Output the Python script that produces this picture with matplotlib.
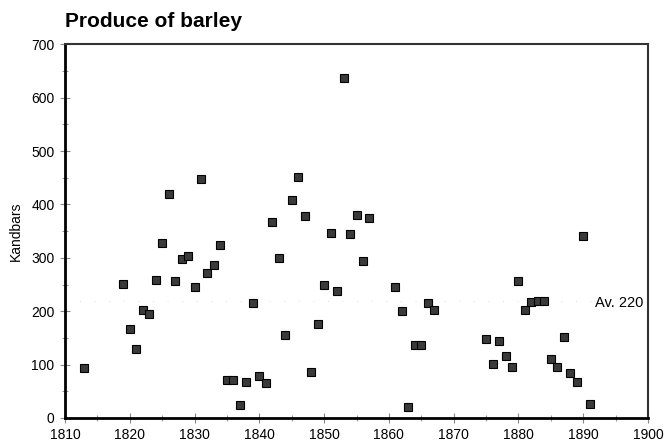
import matplotlib.pyplot as plt
from matplotlib.ticker import MultipleLocator

plt.rcParams['font.family'] = ['Liberation Sans', 'DejaVu Sans']

# barley produce by year (kandbars)
years = [1813, 1819, 1820, 1821, 1822, 1823, 1824, 1825, 1826, 1827,
         1828, 1829, 1830, 1831, 1832, 1833, 1834, 1835, 1836, 1837,
         1838, 1839, 1840, 1841, 1842, 1843, 1844, 1845, 1846, 1847,
         1848, 1849, 1850, 1851, 1852, 1853, 1854, 1855, 1856, 1857,
         1861, 1862, 1863, 1864, 1865, 1866, 1867,
         1875, 1876, 1877, 1878, 1879, 1880, 1881, 1882, 1883, 1884,
         1885, 1886, 1887, 1888, 1889, 1890, 1891]
produce = [94, 251, 167, 129, 202, 194, 259, 328, 420, 256,
           298, 303, 245, 447, 271, 287, 325, 71, 71, 25,
           67, 215, 79, 65, 368, 299, 155, 408, 452, 379,
           87, 176, 250, 347, 238, 637, 345, 381, 295, 375,
           246, 201, 21, 137, 137, 216, 203,
           148, 101, 144, 117, 95, 256, 203, 217, 220, 220,
           110, 95, 151, 84, 67, 341, 26]
average = 220

fig = plt.figure(figsize=(6.65, 4.48), dpi=100)
ax = fig.add_axes([0.0977, 0.067, 0.8768, 0.834])

ax.plot(years, produce, 's', markersize=6, markerfacecolor='#3a3a3a',
        markeredgecolor='black', markeredgewidth=0.8)
ax.axhline(average, color='#dddddd', lw=0.7, ls=(0, (1, 14)), zorder=0)
ax.text(1891.8, 215, 'Av. 220', fontsize=10.5, va='center', ha='left')

ax.set_xlim(1810, 1900)
ax.set_ylim(0, 700)
ax.xaxis.set_major_locator(MultipleLocator(10))
ax.xaxis.set_minor_locator(MultipleLocator(5))
ax.yaxis.set_major_locator(MultipleLocator(100))
ax.yaxis.set_minor_locator(MultipleLocator(50))
ax.tick_params(which='major', direction='inout', length=7, width=0.8,
               color='#888888', labelsize=10, pad=4)
ax.tick_params(which='minor', direction='inout', length=5, width=0.8,
               color='#999999')

for side in ['left', 'bottom']:
    ax.spines[side].set_linewidth(2.0)
    ax.spines[side].set_color('black')
for side in ['top', 'right']:
    ax.spines[side].set_linewidth(1.5)
    ax.spines[side].set_color('#333333')

ax.set_ylabel('Kandbars', fontsize=10, labelpad=6)
fig.text(0.098, 0.93, 'Produce of barley', fontsize=15, fontweight='bold',
         ha='left', va='bottom')

fig.savefig('out.png', dpi=100)
